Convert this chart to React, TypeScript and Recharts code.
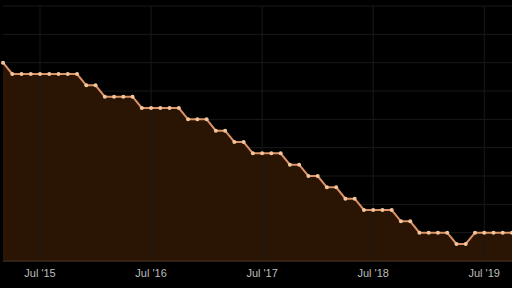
import { AreaChart, Area, XAxis, YAxis, CartesianGrid, ReferenceLine } from "recharts";

const MONTHS = [
  "Mar '15", "Apr '15", "May '15", "Jun '15", "Jul '15", "Aug '15", "Sep '15", "Oct '15", "Nov '15", "Dec '15",
  "Jan '16", "Feb '16", "Mar '16", "Apr '16", "May '16", "Jun '16", "Jul '16", "Aug '16", "Sep '16", "Oct '16", "Nov '16", "Dec '16",
  "Jan '17", "Feb '17", "Mar '17", "Apr '17", "May '17", "Jun '17", "Jul '17", "Aug '17", "Sep '17", "Oct '17", "Nov '17", "Dec '17",
  "Jan '18", "Feb '18", "Mar '18", "Apr '18", "May '18", "Jun '18", "Jul '18", "Aug '18", "Sep '18", "Oct '18", "Nov '18", "Dec '18",
  "Jan '19", "Feb '19", "Mar '19", "Apr '19", "May '19", "Jun '19", "Jul '19", "Aug '19", "Sep '19", "Oct '19",
];

const VALUES = [
  7.0,
  6.6, 6.6, 6.6, 6.6, 6.6, 6.6, 6.6, 6.6,
  6.2, 6.2,
  5.8, 5.8, 5.8, 5.8,
  5.4, 5.4, 5.4, 5.4, 5.4,
  5.0, 5.0, 5.0,
  4.6, 4.6,
  4.2, 4.2,
  3.8, 3.8, 3.8, 3.8,
  3.4, 3.4,
  3.0, 3.0,
  2.6, 2.6,
  2.2, 2.2,
  1.8, 1.8, 1.8, 1.8,
  1.4, 1.4,
  1.0, 1.0, 1.0, 1.0,
  0.6, 0.6,
  1.0, 1.0, 1.0, 1.0, 1.0,
];

const X_TICKS = ["Jul '15", "Jul '16", "Jul '17", "Jul '18", "Jul '19"];
const Y_TICKS = [0, 1, 2, 3, 4, 5, 6, 7, 8, 9];

const data = MONTHS.map((m, i) => ({ month: m, value: VALUES[i] }));

const LINE = "#dc9264";
const DOT = "#f2c59c";
const FILL = "#2a1505";
const GRID = "#191919";

export default function App() {
  return (
    <div style={{ position: "fixed", left: 0, top: 0, width: 512, height: 288, background: "#000" }}>
      <AreaChart width={512} height={288} data={data} margin={{ top: 6, right: 0, left: 3, bottom: 0 }}>
        <CartesianGrid stroke={GRID} strokeWidth={1} vertical={false} />
        {X_TICKS.map((t) => (
          <ReferenceLine key={t} x={t} stroke={GRID} strokeWidth={1} />
        ))}
        <XAxis
          dataKey="month"
          ticks={X_TICKS}
          interval={0}
          height={27}
          tickLine={false}
          axisLine={{ stroke: "#4a3222" }}
          tick={{ fill: "#bdbdbd", fontSize: 11, fontFamily: "Liberation Sans, Arial, sans-serif" }}
        />
        <YAxis hide domain={[0, 9]} ticks={Y_TICKS} />
        <Area
          type="linear"
          dataKey="value"
          stroke={LINE}
          strokeWidth={2}
          fill={FILL}
          fillOpacity={1}
          dot={{ r: 2, fill: DOT, stroke: "none" }}
          activeDot={false}
          isAnimationActive={false}
        />
      </AreaChart>
    </div>
  );
}
